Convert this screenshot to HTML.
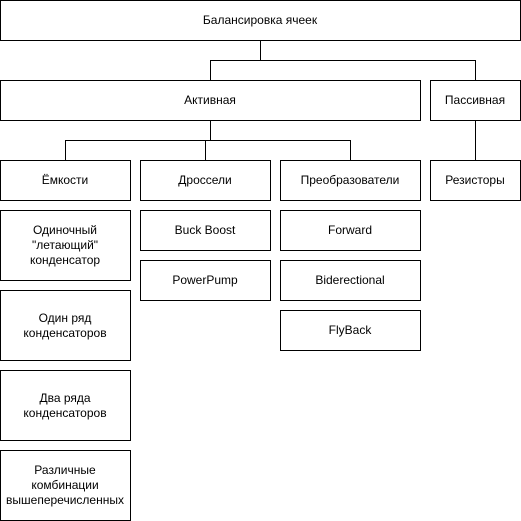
<!DOCTYPE html>
<html><head><meta charset="utf-8"><style>
html,body{margin:0;padding:0;background:#fff;width:521px;height:521px;overflow:hidden}
text{font-family:"Liberation Sans",Arial,sans-serif;font-size:12px;fill:#000;text-anchor:middle;dominant-baseline:central}
rect{fill:#fff;stroke:#000;stroke-width:1}
path{fill:none;stroke:#000;stroke-width:1}
</style></head><body>
<svg width="521" height="521" xmlns="http://www.w3.org/2000/svg">
<path d="M260.5 40.5V60.5M210.5 80.5V60.5H475.5V80.5"/>
<path d="M210.5 120.5V140.5M65.5 160.5V140.5H350.5V160.5M205.5 140.5V160.5"/>
<path d="M475.5 120.5V160.5"/>
<rect x="0.5" y="0.5" width="520" height="40"/><text x="260" y="20">Балансировка ячеек</text>
<rect x="0.5" y="80.5" width="420" height="40"/><text x="210" y="100">Активная</text>
<rect x="430.5" y="80.5" width="90" height="40"/><text x="475" y="100">Пассивная</text>
<rect x="0.5" y="160.5" width="130" height="40"/><text x="65" y="180">Ёмкости</text>
<rect x="140.5" y="160.5" width="130" height="40"/><text x="205" y="180">Дроссели</text>
<rect x="280.5" y="160.5" width="140" height="40"/><text x="350" y="180">Преобразователи</text>
<rect x="430.5" y="160.5" width="90" height="40"/><text x="475" y="180">Резисторы</text>
<rect x="0.5" y="210.5" width="130" height="70"/><text x="65" y="230">Одиночный</text><text x="65" y="245">"летающий"</text><text x="65" y="260">конденсатор</text>
<rect x="0.5" y="290.5" width="130" height="70"/><text x="65" y="318">Один ряд</text><text x="65" y="333">конденсаторов</text>
<rect x="0.5" y="370.5" width="130" height="70"/><text x="65" y="398">Два ряда</text><text x="65" y="413">конденсаторов</text>
<rect x="0.5" y="450.5" width="130" height="70"/><text x="65" y="470">Различные</text><text x="65" y="485">комбинации</text><text x="65" y="500">вышеперечисленных</text>
<rect x="140.5" y="210.5" width="130" height="40"/><text x="205" y="230">Buck Boost</text>
<rect x="140.5" y="260.5" width="130" height="40"/><text x="205" y="280">PowerPump</text>
<rect x="280.5" y="210.5" width="140" height="40"/><text x="350" y="230">Forward</text>
<rect x="280.5" y="260.5" width="140" height="40"/><text x="350" y="280">Biderectional</text>
<rect x="280.5" y="310.5" width="140" height="40"/><text x="350" y="330">FlyBack</text>
</svg>
</body></html>
